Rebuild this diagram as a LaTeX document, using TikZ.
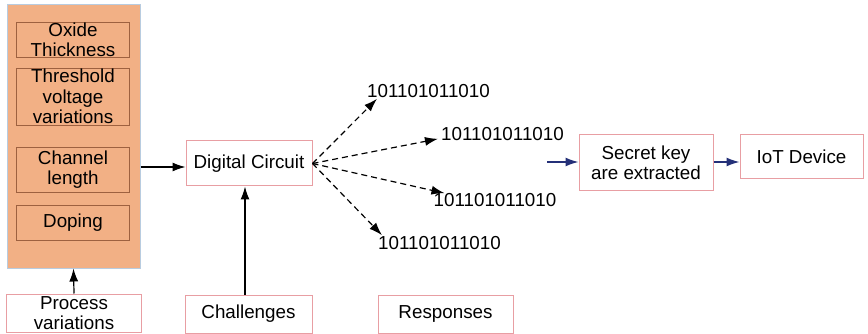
\documentclass[tikz,border=0pt]{standalone}
\usepackage{fontspec}
\setmainfont{Liberation Sans}
\usetikzlibrary{arrows.meta}
\newlength{\du}
\setlength{\du}{1pt}
\definecolor{boxline}{rgb}{0.91,0.62,0.64}
\definecolor{orangefill}{rgb}{0.95,0.69,0.52}
\definecolor{orangeedge}{rgb}{0.72,0.80,0.88}
\definecolor{innerline}{rgb}{0.62,0.38,0.25}
\definecolor{keyarrow}{rgb}{0.14,0.19,0.47}
\tikzset{
  lbl/.style={font=\fontsize{18.8}{20.5}\selectfont, align=center, inner sep=0pt},
  pinkbox/.style={lbl, draw=boxline, line width=1\du, fill=white},
  innerbox/.style={lbl, draw=innerline, line width=0.8\du},
  bits/.style={lbl, inner sep=1\du},
  conn/.style={line width=1.2\du, -{Latex[length=13pt,width=9pt]}},
  dconn/.style={conn, dash pattern=on 6pt off 4pt},
  bconn/.style={conn, draw=keyarrow, line width=1.4\du}
}
\begin{document}
\begin{tikzpicture}[yscale=-1]
\useasboundingbox (0,0) rectangle (868\du,334\du);
% process parameters
\node[draw=orangeedge, fill=orangefill, line width=1\du, minimum width=133\du, minimum height=263\du] (params) at (73.5\du,136.5\du) {};
\node[innerbox, minimum width=113\du, minimum height=35\du] (oxide) at (73\du,40\du) {Oxide\\Thickness};
\node[innerbox, minimum width=113\du, minimum height=57\du] (vth) at (73\du,96.5\du) {Threshold\\voltage\\variations};
\node[innerbox, minimum width=113\du, minimum height=45\du] (channel) at (73\du,169.5\du) {Channel\\length};
\node[innerbox, minimum width=113\du, minimum height=35\du] (doping) at (73\du,222.5\du) {Doping};
\node[pinkbox, font=\fontsize{18.8}{19.5}\selectfont, minimum width=135\du, minimum height=38\du] (process) at (74\du,313\du) {Process\\variations};
% circuit
\node[pinkbox, minimum width=126\du, minimum height=45\du] (circuit) at (249\du,163.5\du) {Digital Circuit};
\node[pinkbox, minimum width=127\du, minimum height=38\du] (challenge) at (248.5\du,314\du) {Challenges};
\node[pinkbox, minimum width=135\du, minimum height=38\du] (response) at (445.5\du,314\du) {Responses};
% responses
\node[bits] (bitsA) at (428.5\du,91\du) {101101011010};
\node[bits] (bitsB) at (502.5\du,134\du) {101101011010};
\node[bits] (bitsC) at (495\du,200\du) {101101011010};
\node[bits] (bitsD) at (439.5\du,243\du) {101101011010};
% key
\node[pinkbox, minimum width=134\du, minimum height=56\du] (secret) at (646\du,163\du) {Secret key\\are extracted};
\node[pinkbox, minimum width=123\du, minimum height=44\du] (iot) at (801.5\du,157\du) {IoT Device};
\coordinate (keyin) at (547\du,162\du);
\coordinate (inlevel) at (0,167\du);
\coordinate (chx) at (245\du,0);
% connectors
\draw[conn] (process.north) -- (params.south);
\draw[conn] (params.east |- inlevel) -- (circuit.west |- inlevel);
\draw[conn] (challenge.north -| chx) -- (circuit.south -| chx);
\draw[dconn] (circuit.east) -- ([xshift=11\du]bitsA.south west);
\draw[dconn] (circuit.east) -- ([xshift=-2\du,yshift=-3\du]bitsB.south west);
\draw[dconn] (circuit.east) -- ([xshift=12\du,yshift=1\du]bitsC.north west);
\draw[dconn] (circuit.east) -- ([xshift=5\du]bitsD.north west);
\draw[bconn] (keyin) -- (secret.west |- keyin);
\draw[bconn] (secret.east |- keyin) -- (iot.west |- keyin);
\end{tikzpicture}
\end{document}
